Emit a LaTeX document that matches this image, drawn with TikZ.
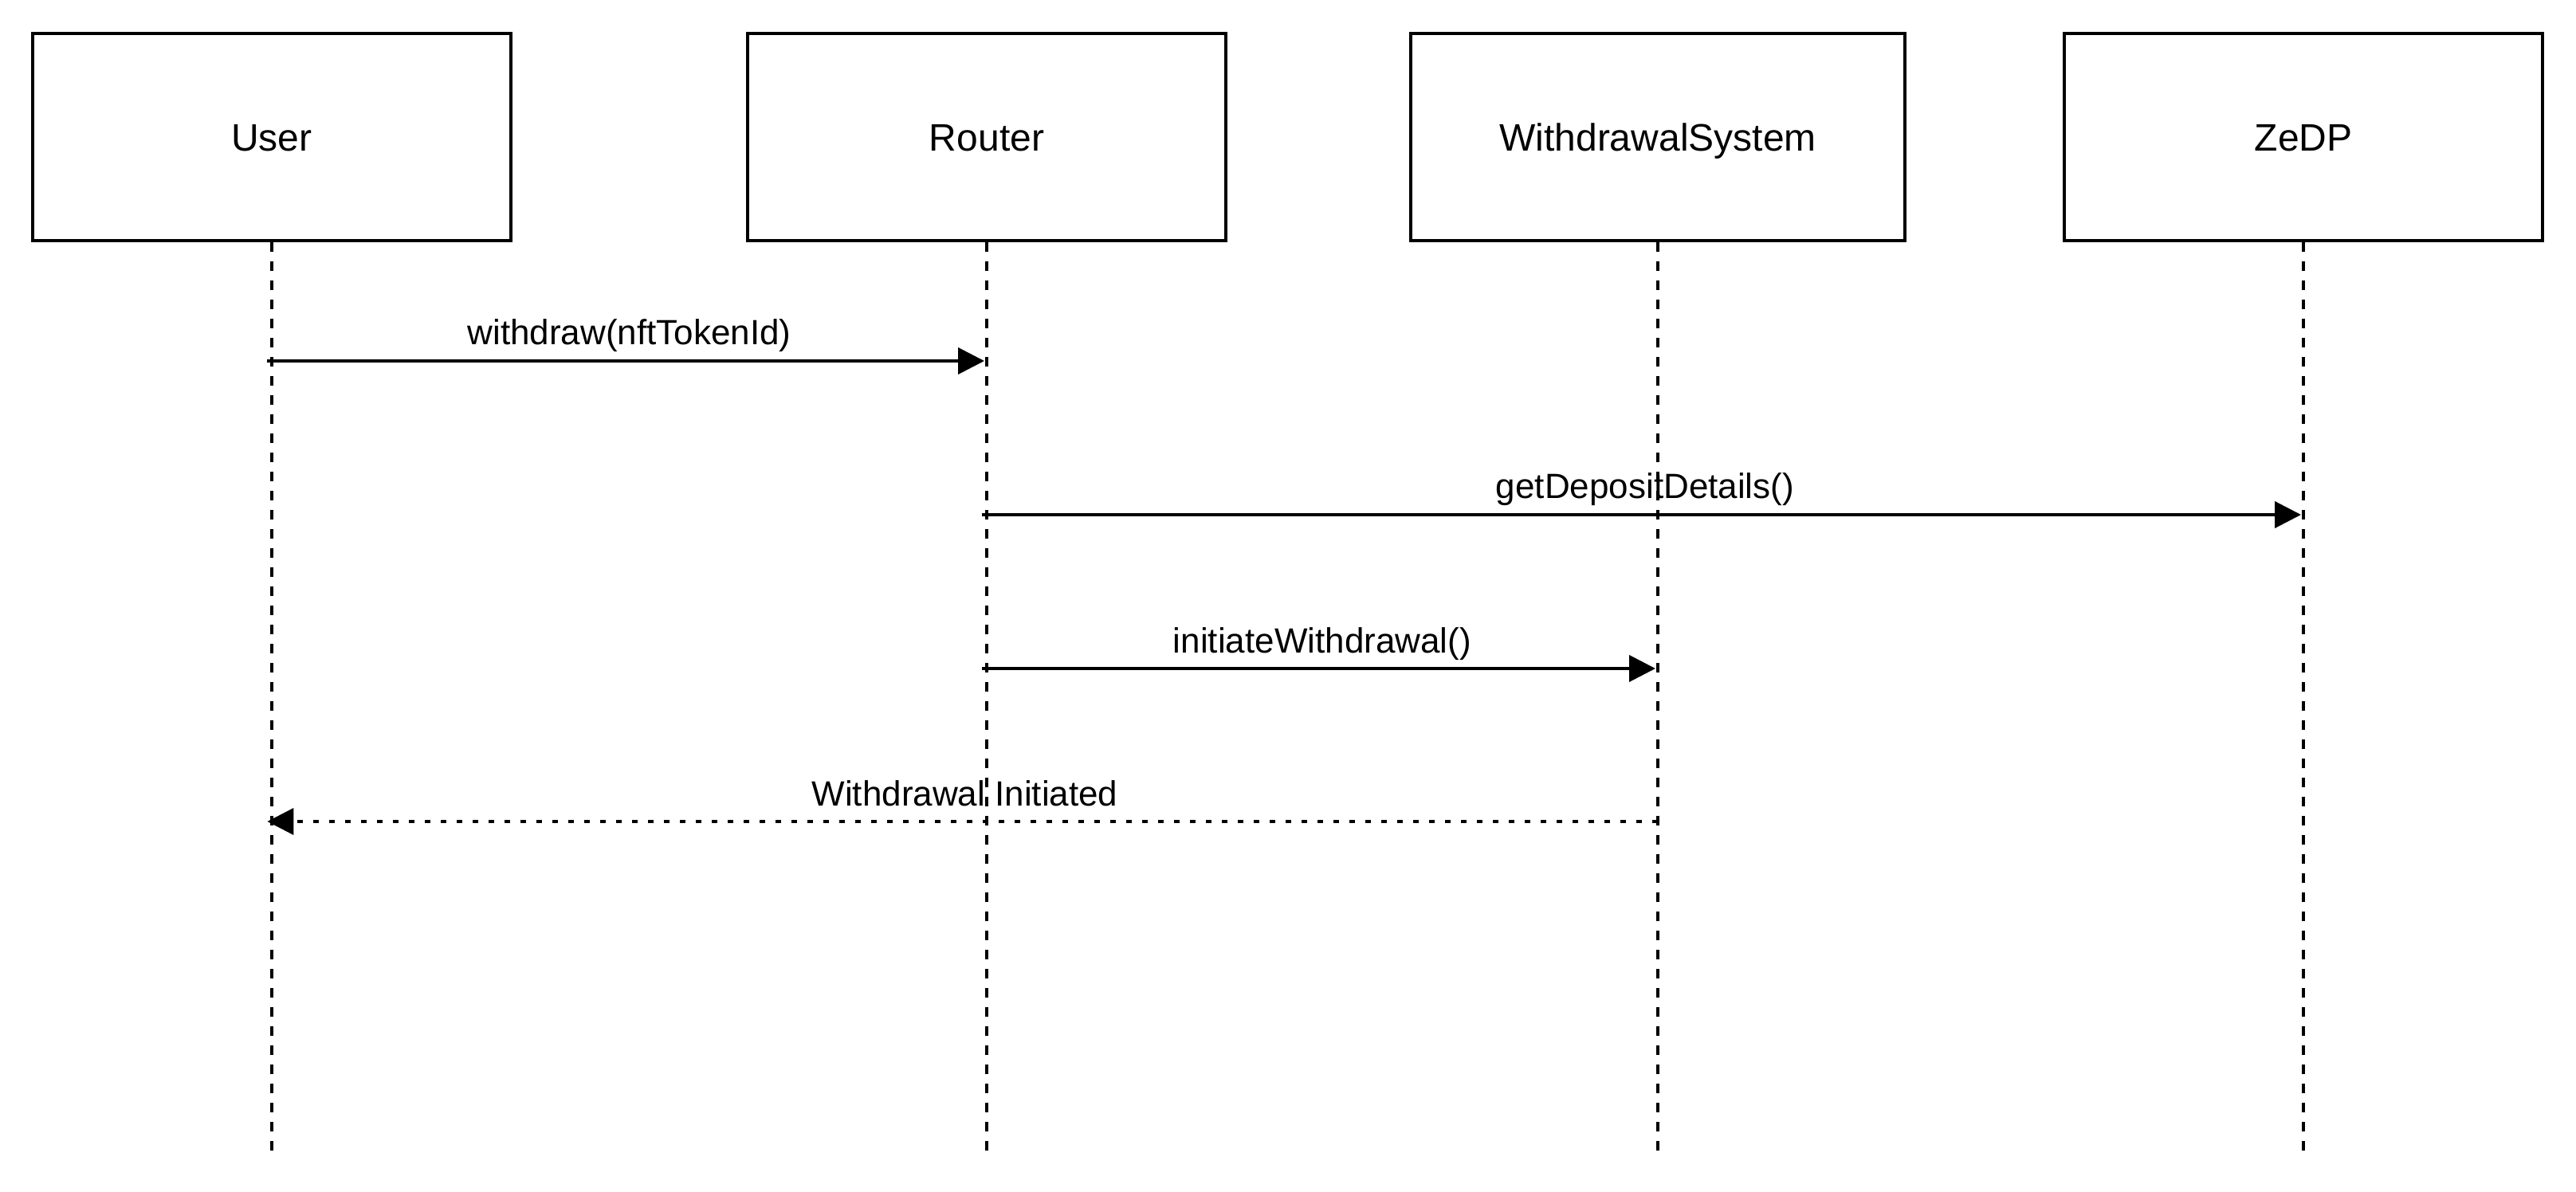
\documentclass[tikz,border=0pt]{standalone}
\usepackage{fontspec}
\setmainfont{Liberation Sans}
\usetikzlibrary{arrows.meta}

\begin{document}
\begin{tikzpicture}[x=1pt,y=1pt,->,>={Triangle[length=8.25pt,width=8.25pt]},
            shorten >=0.75pt,line width=1pt,
            actor/.style={draw,rectangle,minimum width=150pt,minimum height=65pt,
              inner sep=0pt,font=\fontsize{12}{14}\selectfont,text height=8.6pt,text depth=0pt},
            life/.style={-,shorten >=0pt,dash pattern=on 3pt off 3pt},
            reply/.style={shorten >=-1.4pt,dash pattern=on 1.75pt off 3.25pt},
            msg/.style={anchor=base,yshift=5pt,font=\fontsize{11}{13}\selectfont}]

          \useasboundingbox (0,0) rectangle (808,-374);

          % participants
          \node[actor]                         (U) at ( 85.25, -43) {User};
          \node[actor]                         (R) at (309.5,  -43) {Router};
          \node[actor,minimum width=155pt]     (W) at (520,    -43) {WithdrawalSystem};
          \node[actor]                         (Z) at (722.5,  -43) {ZeDP};

          % lifelines
          \coordinate (U0) at ( 85.25, -361.5);
          \coordinate (R0) at (309.5,  -361.5);
          \coordinate (W0) at (520,    -361.5);
          \coordinate (Z0) at (722.5,  -361.5);
          \draw[life] (U) -- (U0);
          \draw[life] (R) -- (R0);
          \draw[life] (W) -- (W0);
          \draw[life] (Z) -- (Z0);

          % message ends
          \coordinate (U1) at ( 85.25, -113.25);
          \coordinate (R1) at (309.5,  -113.25);
          \coordinate (R2) at (309.5,  -161.5);
          \coordinate (Z2) at (722.5,  -161.5);
          \coordinate (R3) at (309.5,  -209.75);
          \coordinate (W3) at (520,    -209.75);
          \coordinate (W4) at (520,    -257.75);
          \coordinate (U4) at ( 85.25, -257.75);

          \path[shorten <=-1.5pt]
                (U1) edge node [msg] {withdraw(nftTokenId)} (R1)
                (R2) edge node [msg] {getDepositDetails()}  (Z2)
                (R3) edge node [msg] {initiateWithdrawal()} (W3);
          \path (W4) edge [reply] node [msg] {Withdrawal Initiated} (U4);
        \end{tikzpicture}
\end{document}
